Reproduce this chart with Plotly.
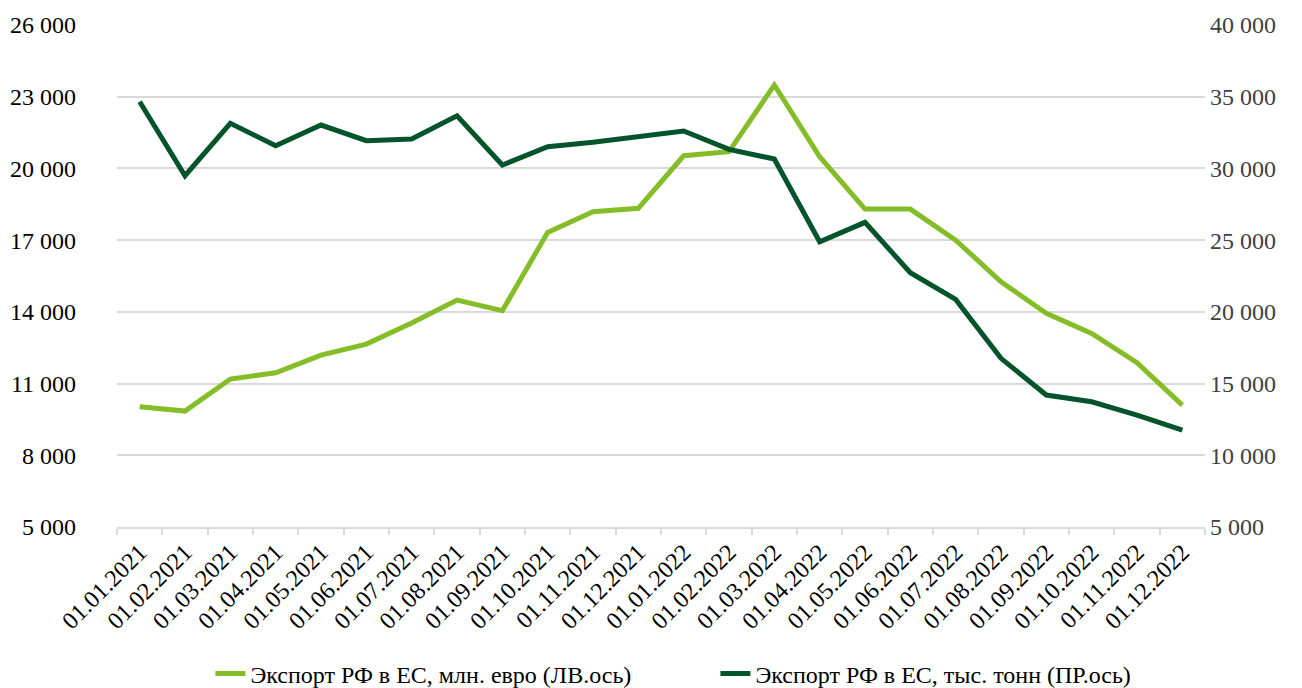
import plotly.graph_objects as go

dates = ["01.01.2021", "01.02.2021", "01.03.2021", "01.04.2021", "01.05.2021", "01.06.2021",
         "01.07.2021", "01.08.2021", "01.09.2021", "01.10.2021", "01.11.2021", "01.12.2021",
         "01.01.2022", "01.02.2022", "01.03.2022", "01.04.2022", "01.05.2022", "01.06.2022",
         "01.07.2022", "01.08.2022", "01.09.2022", "01.10.2022", "01.11.2022", "01.12.2022"]

export_eur = [10030, 9850, 11190, 11450, 12190, 12650, 13530, 14494, 14046, 17325, 18190, 18330,
              20530, 20700, 23490, 20490, 18300, 18300, 17000, 15260, 13940, 13100, 11870, 10100]

export_tonnes = [34650, 29490, 33145, 31583, 33026, 31932, 32050, 33675, 30237, 31513, 31820, 32210,
                 32608, 31330, 30655, 24888, 26240, 22730, 20870, 16760, 14200, 13730, 12800, 11760]

left_ticks = [5000, 8000, 11000, 14000, 17000, 20000, 23000, 26000]
right_ticks = [5000, 10000, 15000, 20000, 25000, 30000, 35000, 40000]

name_eur = "Экспорт РФ в ЕС, млн. евро (ЛВ.ось)"
name_tonnes = "Экспорт РФ в ЕС, тыс. тонн (ПР.ось)"

light = "#84BD27"
dark = "#03532B"
grid = "#D9D9D9"
font_family = "Liberation Serif, Times New Roman, serif"
FS = 24

def fmt(v):
    return f"{v:,}".replace(",", " ")

fig = go.Figure()
fig.add_trace(go.Scatter(x=dates, y=export_eur, name=name_eur, mode="lines",
                         line=dict(color=light, width=5), yaxis="y"))
fig.add_trace(go.Scatter(x=dates, y=export_tonnes, name=name_tonnes, mode="lines",
                         line=dict(color=dark, width=5), yaxis="y2"))

W, H = 1294, 680
fig.update_layout(
    width=W, height=H,
    margin=dict(l=109, r=97, t=17, b=161, autoexpand=False),
    paper_bgcolor="white", plot_bgcolor="white",
    font=dict(family=font_family, size=FS, color="#000000"),
    xaxis=dict(type="category", tickangle=-45, tickson="boundaries",
               ticks="outside", ticklen=6, tickcolor=grid, tickwidth=1.5,
               showline=True, linecolor=grid, linewidth=1.5,
               showgrid=False, zeroline=False, automargin=False,
               tickfont=dict(family=font_family, size=FS, color="#000000"),
               range=[-0.5, 23.5]),
    yaxis=dict(range=[5000, 26000], tickvals=left_ticks, ticktext=[fmt(v) for v in left_ticks],
               showgrid=True, gridcolor=grid, gridwidth=1.5, zeroline=False,
               ticks="", ticklabelstandoff=40, automargin=False,
               tickfont=dict(family=font_family, size=FS, color="#000000")),
    yaxis2=dict(range=[5000, 40000], tickvals=right_ticks, ticktext=[fmt(v) for v in right_ticks],
                overlaying="y", side="right", showgrid=False, zeroline=False,
                ticks="", ticklabelstandoff=4, automargin=False,
                tickfont=dict(family=font_family, size=FS, color="#404040")),
    legend=dict(orientation="h", x=0.55, xanchor="center", yref="container", y=14 / H,
                yanchor="middle", font=dict(family=font_family, size=FS, color="#000000"),
                entrywidth=460, entrywidthmode="pixels", bgcolor="rgba(0,0,0,0)"),
    showlegend=True,
)

fig.write_html("out.html")
